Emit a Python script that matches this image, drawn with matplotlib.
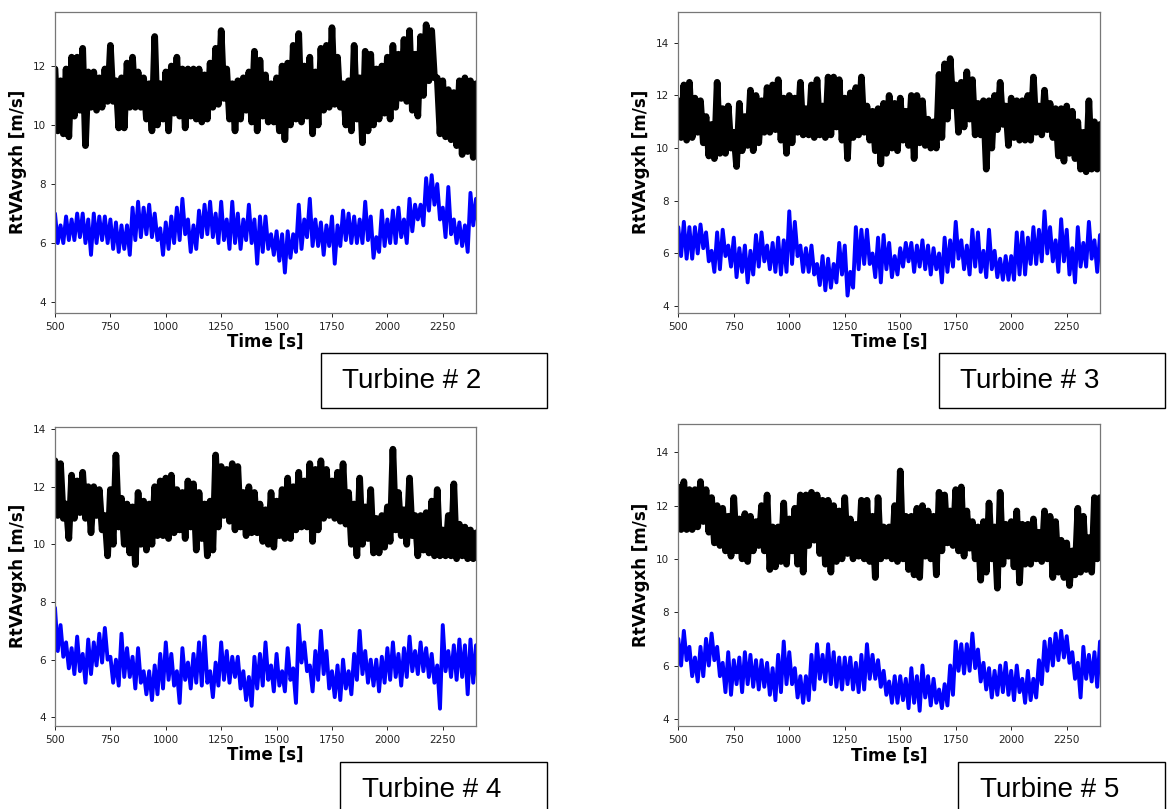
import numpy as np
import matplotlib
matplotlib.use("Agg")
import matplotlib.pyplot as plt
from matplotlib.patches import Rectangle

# Sample instants (s); each series is stored as its local peaks and troughs
sample_time = list(range(500, 2401, 25))
half_step = 12.5

# ---- Turbine # 2 ----
t2_a_peaks = [11.9, 11.5, 11.9, 12.3, 12.3, 12.6, 11.8, 11.8, 11.6, 11.9,
              12.7, 11.5, 11.6, 12.1, 12.3, 11.8, 11.6, 11.4, 13.0, 11.4,
              11.8, 12.0, 12.3, 11.9, 11.9, 11.9, 11.9, 11.7, 12.1, 12.6,
              13.2, 11.9, 11.4, 11.5, 11.6, 11.8, 12.5, 12.2, 11.7, 11.4,
              11.6, 12.0, 12.1, 12.7, 13.1, 12.0, 12.3, 11.8, 12.6, 12.7,
              13.3, 12.3, 11.4, 11.5, 12.7, 11.6, 12.5, 12.4, 11.9, 12.0,
              12.3, 12.7, 12.4, 12.9, 13.2, 12.4, 13.0, 13.4, 13.2, 11.6,
              11.5, 11.2, 11.1, 11.5, 11.6, 11.5, 11.4]
t2_a_troughs = [9.8, 9.7, 9.6, 10.3, 10.5, 9.3, 10.6, 10.5, 10.6, 10.8,
                10.8, 9.9, 9.9, 10.6, 10.6, 10.6, 10.2, 9.8, 10.0, 10.2,
                9.8, 10.4, 10.3, 9.9, 10.3, 10.2, 10.1, 10.2, 10.6, 10.7,
                10.9, 10.2, 9.8, 10.2, 10.5, 10.1, 9.8, 10.3, 10.1, 10.1,
                9.8, 9.5, 10.0, 10.2, 10.1, 10.3, 9.7, 10.0, 10.5, 10.6,
                10.7, 10.6, 10.0, 9.8, 10.2, 9.4, 9.8, 10.0, 10.2, 10.4,
                10.2, 10.6, 10.9, 10.8, 10.5, 10.3, 11.0, 11.5, 11.6, 9.7,
                9.6, 9.5, 9.3, 9.0, 9.1, 8.9, 9.2]
t2_b_peaks = [7.0, 6.6, 6.9, 6.8, 7.0, 7.0, 6.8, 7.0, 6.9, 6.9,
              6.8, 6.7, 6.6, 6.6, 7.2, 7.4, 7.2, 7.3, 7.0, 6.5,
              6.7, 6.9, 7.2, 7.5, 6.8, 6.6, 7.1, 7.3, 7.4, 7.0,
              7.4, 6.8, 7.4, 7.0, 6.8, 7.3, 6.8, 6.9, 6.9, 6.3,
              6.4, 6.3, 6.4, 6.3, 7.3, 6.8, 7.5, 6.8, 6.7, 6.6,
              6.9, 6.6, 7.1, 7.0, 6.9, 6.8, 7.4, 6.9, 6.2, 7.1,
              6.8, 7.1, 7.2, 6.8, 7.5, 7.3, 7.3, 8.2, 8.3, 8.0,
              7.2, 7.9, 6.8, 6.7, 6.6, 7.7, 7.5]
t2_b_troughs = [6.0, 6.0, 6.1, 6.1, 6.2, 6.0, 5.6, 6.0, 6.1, 6.0,
                5.8, 5.7, 5.8, 5.6, 6.1, 6.2, 6.3, 6.2, 6.1, 5.6,
                5.8, 6.0, 6.1, 6.3, 5.7, 5.8, 6.2, 6.3, 6.2, 6.0,
                6.1, 5.8, 6.0, 5.8, 6.1, 6.0, 5.3, 5.7, 5.8, 5.6,
                5.4, 5.0, 5.5, 5.7, 5.8, 6.2, 5.9, 5.9, 5.6, 5.9,
                5.3, 5.9, 6.1, 6.0, 6.0, 6.0, 6.1, 5.5, 5.7, 5.9,
                6.0, 6.0, 6.2, 6.0, 6.4, 6.8, 6.6, 7.1, 7.3, 6.8,
                6.2, 6.3, 6.0, 5.9, 5.7, 6.6, 6.4]

# ---- Turbine # 3 ----
t3_a_peaks = [11.8, 12.4, 12.5, 11.9, 11.8, 11.2, 10.9, 12.5, 11.5, 11.6,
              10.6, 11.7, 11.2, 12.2, 12.0, 11.8, 12.3, 12.4, 12.6, 11.9,
              12.0, 11.9, 12.5, 11.5, 12.4, 12.6, 11.6, 12.7, 12.7, 12.6,
              11.9, 12.1, 12.3, 12.7, 11.6, 11.4, 11.5, 11.7, 12.0, 11.7,
              11.9, 11.4, 12.0, 12.0, 11.8, 11.1, 11.0, 12.8, 13.2, 13.4,
              12.4, 12.5, 12.9, 12.6, 11.7, 11.8, 11.8, 12.0, 12.5, 11.6,
              11.9, 11.8, 11.8, 12.0, 12.7, 11.6, 12.2, 11.7, 11.5, 11.5,
              11.6, 11.4, 11.0, 10.6, 11.8, 11.0, 10.9]
t3_a_troughs = [10.4, 10.3, 10.4, 10.6, 10.2, 9.7, 9.6, 9.8, 9.8, 10.0,
                9.3, 9.9, 10.1, 9.9, 10.2, 10.6, 10.6, 10.7, 10.3, 9.8,
                10.2, 10.6, 10.5, 10.5, 10.4, 10.5, 10.4, 10.5, 10.8, 10.3,
                9.6, 10.4, 10.5, 10.6, 10.3, 9.9, 9.4, 9.8, 10.0, 9.9,
                10.3, 10.1, 9.6, 10.2, 10.1, 10.0, 10.0, 10.4, 11.1, 11.6,
                10.6, 10.8, 11.1, 10.5, 10.5, 9.2, 10.0, 10.7, 10.9, 10.1,
                10.4, 10.3, 10.3, 10.3, 10.6, 10.5, 10.7, 10.4, 9.7, 9.5,
                9.8, 9.6, 9.2, 9.1, 9.2, 9.2, 9.4]
t3_b_peaks = [7.0, 7.2, 7.0, 7.0, 7.1, 6.8, 6.1, 6.8, 6.9, 6.3,
              6.6, 6.2, 6.3, 6.1, 6.7, 6.8, 6.3, 6.4, 6.6, 6.5,
              7.6, 7.2, 6.3, 6.2, 6.3, 5.6, 5.9, 5.8, 5.6, 6.4,
              6.3, 5.3, 7.0, 6.9, 6.9, 6.0, 6.6, 6.7, 6.4, 5.9,
              6.2, 6.4, 6.4, 6.3, 6.5, 6.3, 6.2, 6.0, 6.6, 6.5,
              7.2, 6.5, 6.3, 6.9, 6.8, 6.1, 6.9, 6.1, 5.8, 5.9,
              5.9, 6.8, 6.8, 6.6, 7.0, 6.9, 7.6, 7.0, 6.5, 7.3,
              6.9, 6.2, 7.0, 6.4, 7.2, 6.5, 6.7]
t3_b_troughs = [5.9, 5.8, 5.8, 6.0, 6.2, 5.7, 5.3, 5.4, 5.9, 5.5,
                5.1, 5.3, 4.9, 5.2, 5.5, 5.7, 5.4, 5.3, 5.2, 5.3,
                5.6, 5.9, 5.3, 5.3, 5.2, 4.8, 4.6, 4.7, 4.9, 5.2,
                4.4, 4.7, 5.4, 5.6, 5.6, 5.1, 4.9, 5.4, 5.1, 5.2,
                5.5, 5.7, 5.3, 5.5, 5.4, 5.2, 5.4, 4.9, 5.3, 5.5,
                5.8, 5.4, 5.2, 5.5, 5.3, 5.1, 5.4, 5.1, 5.0, 5.0,
                5.0, 5.2, 5.2, 5.6, 5.6, 5.7, 6.0, 5.7, 5.3, 5.7,
                5.2, 4.9, 5.5, 5.5, 5.8, 5.3, 5.6]

# ---- Turbine # 4 ----
t4_a_peaks = [12.9, 12.8, 11.4, 12.4, 12.2, 12.5, 12.0, 12.0, 11.9, 11.0,
              11.9, 13.1, 11.6, 11.4, 11.3, 11.8, 11.5, 11.4, 12.0, 12.2,
              12.3, 12.4, 11.9, 11.8, 12.2, 12.1, 11.8, 11.4, 11.5, 13.1,
              12.7, 12.6, 12.8, 12.7, 11.8, 12.0, 11.8, 11.4, 11.2, 11.8,
              11.5, 11.9, 12.3, 12.0, 12.5, 12.2, 12.8, 12.6, 12.9, 12.6,
              12.2, 12.5, 12.8, 11.8, 11.4, 12.3, 11.3, 11.9, 10.9, 11.0,
              11.3, 13.3, 11.8, 11.2, 12.3, 11.0, 11.0, 11.1, 11.5, 11.9,
              10.5, 11.0, 12.1, 10.7, 10.6, 10.5, 10.4]
t4_a_troughs = [11.0, 10.9, 10.2, 10.9, 11.1, 10.9, 10.4, 11.0, 10.5, 9.6,
                10.0, 10.6, 10.0, 9.7, 9.3, 10.0, 9.8, 10.0, 10.3, 10.3,
                10.2, 10.4, 10.5, 10.2, 10.6, 9.8, 10.2, 9.6, 9.8, 10.6,
                11.0, 10.8, 10.5, 10.6, 10.3, 10.4, 10.4, 10.1, 10.0, 9.9,
                10.3, 10.2, 10.2, 10.5, 10.6, 10.6, 10.1, 10.5, 10.9, 11.0,
                10.9, 10.8, 10.7, 10.0, 9.6, 10.0, 10.2, 9.7, 9.7, 9.9,
                10.1, 10.5, 10.3, 10.0, 10.3, 9.6, 9.8, 9.7, 9.6, 9.6,
                9.6, 9.6, 9.5, 9.6, 9.5, 9.5, 9.5]
t4_b_peaks = [7.8, 7.2, 6.6, 6.4, 6.8, 6.2, 6.7, 6.6, 6.9, 7.1,
              6.1, 6.0, 6.9, 6.4, 6.1, 6.4, 5.6, 5.6, 5.8, 6.2,
              6.6, 6.2, 5.6, 6.4, 5.9, 6.2, 6.6, 6.8, 5.6, 5.9,
              6.6, 6.3, 6.1, 6.1, 5.6, 5.4, 6.1, 6.2, 6.6, 5.8,
              6.2, 5.6, 6.4, 5.7, 7.2, 6.6, 5.8, 6.3, 7.0, 6.3,
              5.6, 5.8, 6.0, 5.6, 6.2, 7.0, 6.3, 6.0, 6.0, 6.1,
              6.4, 6.6, 6.2, 6.4, 6.8, 6.3, 6.6, 6.4, 6.2, 5.8,
              7.2, 6.3, 6.5, 6.7, 6.5, 6.7, 6.5]
t4_b_troughs = [6.3, 6.1, 5.7, 5.5, 5.6, 5.2, 5.5, 5.8, 5.9, 6.0,
                5.2, 5.1, 5.4, 5.4, 5.0, 5.2, 4.8, 4.6, 4.8, 5.0,
                5.3, 5.1, 4.5, 5.3, 5.0, 5.2, 5.1, 5.2, 4.7, 5.1,
                5.3, 5.2, 5.4, 5.0, 4.6, 4.4, 5.0, 5.1, 5.3, 4.9,
                5.1, 4.9, 5.3, 4.5, 5.9, 5.6, 4.9, 5.3, 5.5, 5.0,
                4.7, 4.6, 5.0, 4.8, 5.3, 5.5, 5.2, 5.1, 4.9, 5.2,
                5.3, 5.4, 5.1, 5.4, 5.6, 5.5, 5.6, 5.4, 5.2, 4.3,
                5.6, 5.4, 5.3, 5.4, 4.8, 5.2, 4.9]

# ---- Turbine # 5 ----
t5_a_peaks = [12.7, 12.9, 12.6, 12.6, 12.9, 12.6, 12.3, 12.0, 11.9, 11.6,
              12.3, 11.5, 11.7, 11.6, 11.4, 12.0, 12.4, 11.2, 11.2, 12.1,
              11.5, 11.9, 12.4, 12.4, 12.5, 12.4, 12.2, 12.2, 12.0, 11.8,
              12.3, 11.5, 11.3, 12.2, 12.2, 11.6, 12.3, 11.2, 11.2, 12.0,
              13.3, 11.6, 11.6, 11.9, 12.0, 11.8, 11.6, 12.5, 12.4, 11.8,
              12.6, 12.7, 11.8, 11.4, 11.2, 11.4, 12.1, 11.2, 12.5, 11.3,
              11.4, 11.8, 11.3, 11.3, 11.5, 11.0, 11.8, 11.6, 11.4, 10.7,
              10.6, 10.3, 11.9, 11.6, 10.8, 12.3, 12.3]
t5_a_troughs = [11.1, 11.1, 11.1, 11.2, 11.4, 11.0, 10.6, 10.5, 10.3, 10.1,
                10.3, 10.0, 9.9, 10.3, 10.5, 10.3, 9.6, 9.7, 9.9, 9.8,
                10.3, 9.8, 9.5, 10.5, 10.7, 10.2, 9.8, 9.5, 9.9, 10.0,
                10.2, 10.0, 10.1, 10.0, 9.9, 9.3, 10.0, 10.1, 10.0, 9.9,
                10.0, 9.6, 9.4, 9.3, 10.1, 10.0, 9.4, 10.3, 10.6, 10.5,
                10.3, 10.1, 10.4, 10.0, 9.2, 9.5, 10.0, 8.9, 9.8, 10.1,
                9.7, 9.1, 9.8, 9.8, 10.0, 9.9, 10.0, 9.3, 9.5, 9.3,
                9.0, 9.4, 9.5, 9.6, 9.5, 10.0, 10.7]
t5_b_peaks = [7.0, 7.3, 6.7, 6.3, 6.7, 7.0, 7.2, 6.7, 6.1, 6.5,
              6.2, 6.3, 6.5, 6.4, 6.2, 6.2, 6.1, 5.9, 6.4, 6.9,
              6.5, 5.9, 5.6, 5.6, 6.4, 6.8, 6.4, 6.8, 6.5, 6.3,
              6.3, 6.3, 6.1, 6.4, 6.8, 6.4, 6.2, 5.8, 5.4, 5.6,
              5.6, 5.5, 5.9, 5.6, 6.0, 5.6, 5.5, 5.1, 5.3, 6.0,
              6.9, 6.8, 6.8, 7.2, 6.6, 6.1, 5.9, 5.8, 6.0, 6.1,
              5.8, 6.0, 5.5, 5.8, 5.5, 6.2, 6.9, 7.0, 7.2, 7.3,
              7.1, 6.5, 6.1, 6.7, 6.4, 6.5, 6.9]
t5_b_troughs = [6.0, 6.2, 5.6, 5.4, 5.6, 6.0, 6.2, 5.6, 5.0, 4.9,
                5.3, 5.0, 5.3, 5.2, 5.1, 5.2, 4.9, 4.7, 5.0, 5.3,
                5.3, 4.8, 4.6, 4.7, 5.1, 5.5, 5.4, 5.3, 5.2, 5.1,
                5.3, 5.1, 5.0, 5.1, 5.5, 5.5, 5.2, 4.9, 4.6, 4.6,
                4.7, 4.4, 4.6, 4.3, 4.8, 4.5, 4.6, 4.4, 4.5, 4.9,
                5.8, 5.7, 5.8, 5.9, 5.4, 5.1, 4.8, 4.9, 5.0, 4.9,
                4.7, 5.0, 4.6, 4.7, 4.8, 5.3, 5.8, 6.0, 6.2, 6.3,
                6.1, 5.5, 4.8, 5.5, 5.4, 5.2, 5.7]

turbine_labels = ["Turbine # 2", "Turbine # 3", "Turbine # 4", "Turbine # 5"]
x_ticks = [500, 750, 1000, 1250, 1500, 1750, 2000, 2250]
x_range = (500, 2400)
y_ranges = [(3.64, 13.84), (3.75, 15.18), (3.71, 14.08), (3.73, 15.05)]
y_ticks = [[4, 6, 8, 10, 12], [4, 6, 8, 10, 12, 14],
           [4, 6, 8, 10, 12, 14], [4, 6, 8, 10, 12, 14]]

series = [
    (t2_a_peaks, t2_a_troughs, t2_b_peaks, t2_b_troughs),
    (t3_a_peaks, t3_a_troughs, t3_b_peaks, t3_b_troughs),
    (t4_a_peaks, t4_a_troughs, t4_b_peaks, t4_b_troughs),
    (t5_a_peaks, t5_a_troughs, t5_b_peaks, t5_b_troughs),
]


def trace(peaks, troughs):
    """Interleave peak and trough readings into one oscillating trace."""
    t = np.asarray(sample_time, dtype=float)
    x = np.empty(2 * len(t))
    y = np.empty(2 * len(t))
    x[0::2], x[1::2] = t, t + half_step
    y[0::2], y[1::2] = peaks, troughs
    return x, y


W, H = 1170, 809
fig = plt.figure(figsize=(W / 100, H / 100), dpi=100)
fig.patch.set_facecolor("white")

# axes frames in pixels: (left, top, right, bottom)
frames = [(55, 11.7, 476, 312.7), (678.3, 11.7, 1100, 312.7),
          (55, 426.7, 476, 725.7), (678.3, 424.3, 1100, 726)]

for i, (l, t, r, b) in enumerate(frames):
    ax = fig.add_axes([l / W, (H - b) / H, (r - l) / W, (b - t) / H])
    a_hi, a_lo, b_hi, b_lo = series[i]
    xa, ya = trace(a_hi, a_lo)
    xb, yb = trace(b_hi, b_lo)
    ax.plot(xa, ya, color="black", lw=4.8, solid_joinstyle="round",
            solid_capstyle="round")
    ax.plot(xb, yb, color="blue", lw=2.8, solid_joinstyle="round",
            solid_capstyle="round")
    ax.set_xlim(*x_range)
    ax.set_ylim(*y_ranges[i])
    ax.set_xticks(x_ticks)
    ax.set_yticks(y_ticks[i])
    ax.tick_params(labelsize=7.5, length=3, width=0.7, colors="#222222")
    for sp in ax.spines.values():
        sp.set_color("#777777")
        sp.set_linewidth(0.9)
    ax.set_xlabel("Time [s]", fontsize=12, fontweight="bold", labelpad=1)
    ax.set_ylabel("RtVAvgxh [m/s]", fontsize=12, fontweight="bold", labelpad=4)

# caption boxes: (left, top, right, bottom) in pixels, text start x
boxes = [(320.5, 353, 547, 408, 342), (939, 353, 1165, 408, 960),
         (340, 762, 547, 830, 362), (958, 762, 1165, 830, 980)]
for (l, t, r, b, tx), label in zip(boxes, turbine_labels):
    fig.add_artist(Rectangle((l / W, (H - b) / H), (r - l) / W, (b - t) / H,
                             transform=fig.transFigure, fill=False,
                             edgecolor="black", linewidth=1.0))
    fig.text(tx / W, (H - (t + 28)) / H, label, fontsize=20,
             family="Liberation Sans", va="center", ha="left")

fig.savefig("out.png", dpi=100, facecolor="white")
